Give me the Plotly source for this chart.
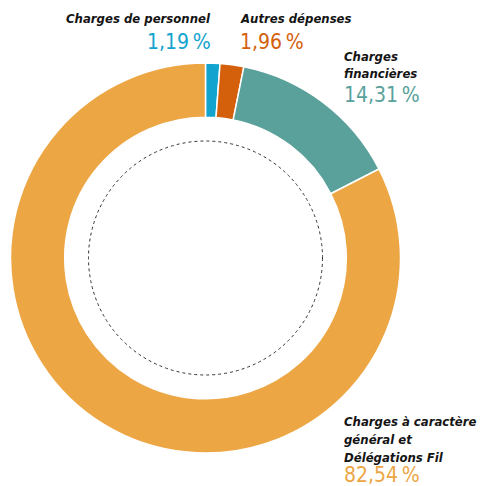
import plotly.graph_objects as go

# ---- data ----
categories = ["Charges de personnel", "Autres dépenses", "Charges financières",
              "Charges à caractère général et Délégations Fil"]
values = [1.19, 1.96, 14.31, 82.54]
colors = ["#12A3CF", "#D4600C", "#5AA19C", "#EDA644"]
label_lines = [["Charges de personnel"], ["Autres dépenses"], ["Charges", "financières"],
               ["Charges à caractère", "général et", "Délégations Fil"]]

OFF = 8  # default page body margin
W, H = 485 - OFF, 486 - OFF
cx, cy, R = 205.5, 258.0, 195.0

def px(x):
    return (x - OFF) / W

def py(y):
    return 1 - (y - OFF) / H

fig = go.Figure(go.Pie(
    labels=categories, values=values, sort=False, direction="clockwise", rotation=0,
    hole=0.722, marker=dict(colors=colors, line=dict(color="white", width=1.5)),
    textinfo="none", hoverinfo="label+percent", showlegend=False,
    domain=dict(x=[px(cx - R), px(cx + R)], y=[py(cy + R), py(cy - R)]),
))

# dotted inner circle
r2 = 117
fig.add_shape(type="circle", xref="paper", yref="paper",
              x0=px(cx - r2), x1=px(cx + r2), y0=py(cy + r2), y1=py(cy - r2),
              line=dict(color="#333333", width=1, dash="dot"))

TF = "DejaVu Sans Condensed, sans-serif"

def fmt(v):
    return ("%.2f" % v).replace(".", ",") + "\u2009%"

# label anchors: (x, xanchor, [y centers of title lines], y of percentage)
anchors = [
    (213, "right", [19], 42),
    (238, "left", [19], 42),
    (342, "left", [56, 74], 95),
    (342, "left", [421, 439, 457], 475),
]

ann = []
for i, (x, xa, ys, yp) in enumerate(anchors):
    for line, y in zip(label_lines[i], ys):
        ann.append(dict(x=px(x), y=py(y), xref="paper", yref="paper", xanchor=xa, yanchor="middle",
                        text="<b><i>" + line + "</i></b>", showarrow=False,
                        font=dict(family=TF, size=13, color="#141414")))
    ann.append(dict(x=px(x), y=py(yp), xref="paper", yref="paper", xanchor=xa, yanchor="middle",
                    text=fmt(values[i]), showarrow=False,
                    font=dict(family=TF, size=21, color=colors[i])))

fig.update_layout(width=W, height=H, margin=dict(l=0, r=0, t=0, b=0),
                  paper_bgcolor="white", plot_bgcolor="white", annotations=ann)

fig.write_html("out.html")
